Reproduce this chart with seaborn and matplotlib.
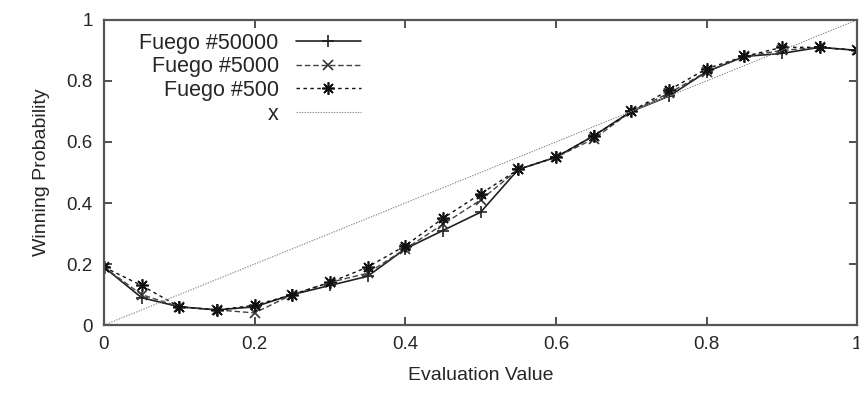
import numpy as np
import pandas as pd
import matplotlib
matplotlib.use("Agg")
import matplotlib.pyplot as plt
import matplotlib.ticker as ticker
import seaborn as sns

# evaluation value bins
x = [0.0, 0.05, 0.1, 0.15, 0.2, 0.25, 0.3, 0.35, 0.4, 0.45, 0.5,
     0.55, 0.6, 0.65, 0.7, 0.75, 0.8, 0.85, 0.9, 0.95, 1.0]
# winning probability per playout count
fuego_50000 = [0.19, 0.09, 0.06, 0.05, 0.06, 0.10, 0.13, 0.16, 0.25, 0.31, 0.37,
               0.51, 0.55, 0.62, 0.70, 0.75, 0.83, 0.88, 0.89, 0.91, 0.90]
fuego_5000 = [0.19, 0.10, 0.06, 0.05, 0.04, 0.10, 0.14, 0.17, 0.25, 0.33, 0.41,
              0.51, 0.55, 0.61, 0.70, 0.76, 0.83, 0.88, 0.90, 0.91, 0.90]
fuego_500 = [0.19, 0.13, 0.06, 0.05, 0.065, 0.10, 0.14, 0.19, 0.26, 0.35, 0.43,
             0.51, 0.55, 0.62, 0.70, 0.77, 0.84, 0.88, 0.91, 0.91, 0.90]
diag = [0.0, 1.0]
labels = ["Fuego #50000", "Fuego #5000", "Fuego #500", "x"]
ticks = [0, 0.2, 0.4, 0.6, 0.8, 1]

sns.set_style("ticks", {"xtick.direction": "in", "ytick.direction": "in",
                        "axes.edgecolor": "#555555"})
plt.rcParams['font.family'] = ['Liberation Sans', 'DejaVu Sans']

fig = plt.figure(figsize=(8.59, 3.97), dpi=100)
ax = fig.add_axes([0.121, 0.181, 0.877, 0.769])

df = pd.DataFrame({"x": x, "a": fuego_50000, "b": fuego_5000, "c": fuego_500})

#series: solid +, dashed x, dash-dot asterisk
sns.lineplot(data=df, x="x", y="a", ax=ax, color="#222222", lw=1.2,
             marker="+", markersize=9, mew=1.2, mec="#222222", label=labels[0])
sns.lineplot(data=df, x="x", y="b", ax=ax, color="#444444", lw=1.0,
             marker="x", markersize=7, mew=1.2, mec="#333333",
             dashes=(4, 2), label=labels[1])
sns.lineplot(data=df, x="x", y="c", ax=ax, color="#111111", lw=1.0,
             marker=(8, 2, 0), markersize=9, mew=1.2, mec="#111111",
             dashes=(2.5, 2.5), label=labels[2])
sns.lineplot(x=diag, y=diag, ax=ax, color="#888888", lw=0.8,
             dashes=(1.2, 1.2), label=labels[3])

ax.set_xlim(0, 1)
ax.set_ylim(0, 1)
ax.xaxis.set_major_locator(ticker.FixedLocator(ticks))
ax.yaxis.set_major_locator(ticker.FixedLocator(ticks))
ax.xaxis.set_major_formatter(ticker.FormatStrFormatter('%g'))
ax.yaxis.set_major_formatter(ticker.FormatStrFormatter('%g'))
ax.tick_params(top=True, right=True, length=6, width=1.2, color="#333333",
               labelsize=13.5, pad=8)
for s in ax.spines.values():
    s.set_linewidth(1.6)
    s.set_visible(True)

ax.set_xlabel("Evaluation Value", fontsize=14, labelpad=10)
ax.set_ylabel("Winning Probability", fontsize=14, labelpad=12)

leg = ax.legend(loc="upper left", bbox_to_anchor=(0.03, 1.0), frameon=False,
                markerfirst=False, fontsize=15.5, handlelength=3.0,
                handletextpad=0.8, labelspacing=0.12, borderaxespad=0.2)
for t in leg.get_texts():
    t.set_ha("right")
leg._legend_box.align = "right"

fig.savefig("out.png", dpi=100)
